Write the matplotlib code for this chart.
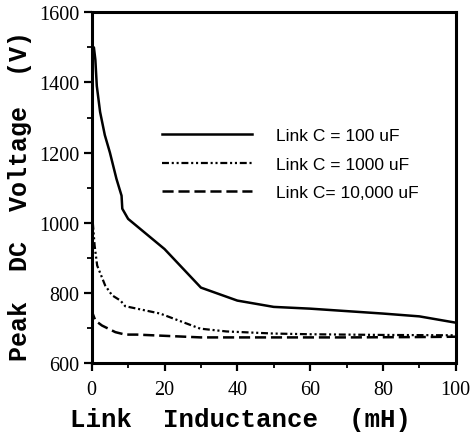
import numpy as np
import matplotlib
matplotlib.use("Agg")
import matplotlib.pyplot as plt
from matplotlib.ticker import MultipleLocator

# =========================
# DATA
# =========================

# Link C = 100 uF
L_100 = [0.0, 0.6, 1.0, 1.4, 2.3, 3.6, 5.0, 6.8, 8.2, 8.4, 10, 20, 30, 40, 50, 60, 70, 80, 90, 100]
V_100 = [1490, 1500, 1465, 1390, 1316, 1250, 1200, 1125, 1077, 1040, 1011, 925, 815, 778, 760, 755, 748, 741, 733, 715]

# Link C = 1000 uF
L_1000 = [0.3, 0.8, 1.5, 3.7, 5.6, 7.9, 9.2, 12.4, 18.8, 29.8, 37, 50, 60, 80, 100]
V_1000 = [1000, 935, 878, 821, 793, 778, 762, 755, 741, 698, 690, 684, 682, 680, 679]

# Link C = 10,000 uF
L_10000 = [0.0, 0.3, 1.0, 2.8, 6.5, 9.2, 12.4, 30, 50, 70, 90, 100]
V_10000 = [755, 740, 721, 707, 688, 681, 681, 673, 673, 673, 674, 675]

LABELS = ["Link C = 100 uF", "Link C = 1000 uF", "Link C= 10,000 uF"]

X_TICKS = [0, 20, 40, 60, 80, 100]
Y_TICKS = [600, 800, 1000, 1200, 1400, 1600]

# =========================
# PLOT
# =========================

plt.rcParams["lines.scale_dashes"] = False

fig = plt.figure(figsize=(4.72, 4.35), dpi=100)
ax = fig.add_axes([0.1943, 0.1632, 0.7712, 0.8062])

ax.plot(L_100, V_100, color="black", linewidth=1.8, label=LABELS[0])
ax.plot(L_1000, V_1000, color="black", linewidth=1.6,
        linestyle=(0, (5, 2, 1.5, 2, 1.5, 2)), label=LABELS[1])
ax.plot(L_10000, V_10000, color="black", linewidth=1.8,
        linestyle=(0, (8, 3.5)), label=LABELS[2])

ax.set_xlim(0, 100)
ax.set_ylim(600, 1600)
ax.set_xticks(X_TICKS)
ax.set_yticks(Y_TICKS)
ax.xaxis.set_minor_locator(MultipleLocator(10))
ax.yaxis.set_minor_locator(MultipleLocator(100))

for s in ax.spines.values():
    s.set_linewidth(2.2)

ax.tick_params(which="major", direction="out", length=6, width=1.6,
               labelsize=14.5, pad=3)
ax.tick_params(axis="x", which="major", pad=6)
ax.tick_params(which="minor", direction="out", length=3.5, width=1.3)
for lab in ax.get_xticklabels() + ax.get_yticklabels():
    lab.set_family("Liberation Serif")

ax.set_xlabel("Link  Inductance  (mH)", family="Liberation Mono",
              fontweight="bold", fontsize=18.5)
ax.set_ylabel("Peak  DC  Voltage  (V)", family="Liberation Mono",
              fontweight="bold", fontsize=18)
# label positions as placed in the reference
ax.xaxis.set_label_coords(0.41, -0.125)
ax.yaxis.set_label_coords(-0.165, 0.48)

leg = ax.legend(loc="upper left", bbox_to_anchor=(0.15, 0.715), frameon=False,
                handlelength=5.2, handletextpad=1.35, labelspacing=0.78,
                prop={"family": "Liberation Sans", "size": 12.5})

fig.savefig("out.png", dpi=100)
